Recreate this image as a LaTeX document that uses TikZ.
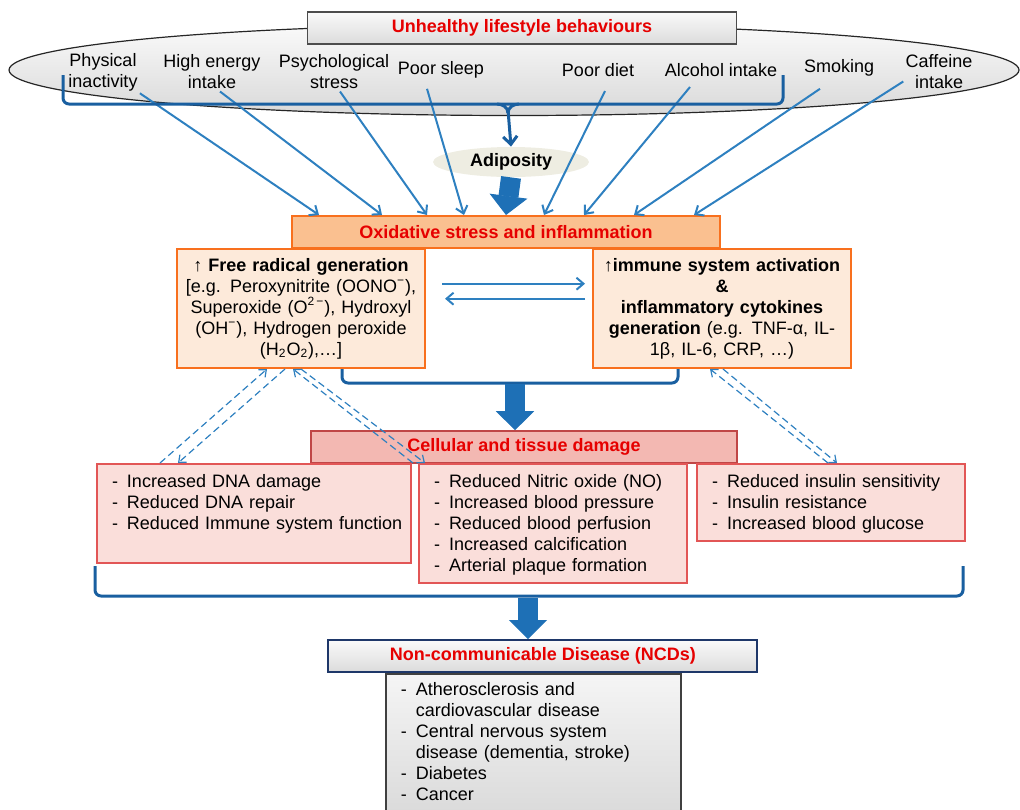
\documentclass[tikz,border=0pt]{standalone}
\usepackage{fontspec}
\setmainfont{Liberation Sans}
\usetikzlibrary{shapes.geometric}
\usetikzlibrary{arrows.meta}
\usetikzlibrary{positioning}

\definecolor{ttlred}{RGB}{230,0,0}
\definecolor{lineblue}{RGB}{46,128,192}
\definecolor{darkblue}{RGB}{25,95,160}
\definecolor{blockblue}{RGB}{30,112,182}
\definecolor{oxfill}{RGB}{250,192,144}
\definecolor{oxedge}{RGB}{248,112,30}
\definecolor{oxlight}{RGB}{253,234,218}
\definecolor{cellfill}{RGB}{243,184,178}
\definecolor{celledge}{RGB}{192,70,70}
\definecolor{dmgfill}{RGB}{250,222,218}
\definecolor{dmgedge}{RGB}{226,86,86}
\definecolor{adipfill}{RGB}{238,237,226}
\definecolor{ncdedge}{RGB}{30,55,105}

\newcommand{\basefont}{\fontsize{9}{10.5}\selectfont}

\tikzset{
  behav/.style={ellipse, draw=black!85, line width=0.6pt, top color=gray!4, bottom color=gray!30,
    minimum width=505pt, minimum height=45.5pt, inner sep=0pt},
  habit/.style={align=center, inner sep=1pt},
  grayttl/.style={draw=black!70, line width=0.8pt, top color=gray!4, bottom color=gray!28,
    minimum width=214.5pt, minimum height=16pt, text=ttlred, font=\basefont\bfseries},
  adip/.style={ellipse, fill=adipfill, minimum width=78pt, minimum height=15pt, inner sep=0pt,
    font=\basefont\bfseries},
  oxttl/.style={draw=oxedge, fill=oxfill, line width=1pt, minimum width=214pt, minimum height=16pt,
    text=ttlred, font=\basefont\bfseries},
  oxbox/.style={draw=oxedge, fill=oxlight, line width=1pt, align=center, inner xsep=3pt,
    minimum height=59.5pt, anchor=north west},
  cellttl/.style={draw=celledge, fill=cellfill, line width=0.8pt, minimum width=213pt, minimum height=16pt,
    text=ttlred, font=\basefont\bfseries},
  dmgbox/.style={draw=dmgedge, fill=dmgfill, line width=1pt, align=left, anchor=north west,
    inner xsep=7.5pt, inner ysep=4pt, text height=7.5pt},
  ncdbox/.style={draw=black!75, line width=0.8pt, top color=gray!8, bottom color=gray!30, align=left,
    anchor=north west, inner xsep=7.5pt, inner ysep=3.5pt, text height=7.5pt},
  thinarr/.style={draw=lineblue, line width=1pt, -{Straight Barb[length=3.5pt,width=6pt]}},
  dasharr/.style={draw=lineblue, line width=0.6pt, dash pattern=on 3.5pt off 2pt,
    -{Straight Barb[length=3pt,width=5pt]}},
  bigarr/.style={draw=blockblue, line width=10pt,
    -{Triangle[length=9.5pt,width=19pt,line width=0.5pt]}},
  brk/.style={draw=darkblue, line width=1.5pt, rounded corners=3pt}
}

\begin{document}
\begin{tikzpicture}[x=0.5pt, y=-0.5pt, font=\basefont]
  \useasboundingbox (0,0) rectangle (1020,809);
  \clip (0,0) rectangle (1020,809);

  % Define nodes
  \node[behav]   (life)    at (514,70) {};
  \node[grayttl] (unh)     at (522,28) {Unhealthy lifestyle behaviours};
  \node[habit]   (inact)   at (103,72) {Physical\\inactivity};
  \node[habit]   (energy)  at (212,72) {High energy\\intake};
  \node[habit]   (stress)  at (334,72) {Psychological\\stress};
  \node[habit]   (sleep)   at (441,70) {Poor sleep};
  \node[habit]   (diet)    at (598,70) {Poor diet};
  \node[habit]   (alcohol) at (721,70) {Alcohol intake};
  \node[habit]   (smoke)   at (839,68) {Smoking};
  \node[habit]   (caff)    at (939,72) {Caffeine\\intake};
  \node[adip]    (adip)    at (511,162) {Adiposity};

  \node[oxbox, text width=118pt] (free) at (176,248)
    {↑ \textbf{Free radical generation}\\
     {[}e.g. Peroxynitrite (OONO\textsuperscript{−}),\\
     Superoxide (O\textsuperscript{2\,−}), Hydroxyl\\
     (OH\textsuperscript{−}), Hydrogen peroxide\\
     (H\textsubscript{2}O\textsubscript{2}),…]};
  \node[oxbox, text width=123pt] (immune) at (592,248)
    {↑\textbf{immune system activation}\\
     \textbf{\&}\\
     \textbf{inflammatory cytokines}\\
     \textbf{generation} (e.g. TNF-α, IL-\\
     1β, IL-6, CRP, …)};
  \node[oxttl] (oxi) at (506,232) {Oxidative stress and inflammation};

  \node[cellttl] (cell) at (524,447) {Cellular and tissue damage};
  \node[dmgbox, text width=142pt, text depth=34pt] (dna) at (96,463)
    {\begin{tabular}[t]{@{}l@{\hspace{4.5pt}}l@{}}
      - & Increased DNA damage\\
      - & Reduced DNA repair\\
      - & Reduced Immune system function
     \end{tabular}};
  \node[dmgbox, text width=119pt, text depth=44pt] (vessel) at (418,463)
    {\begin{tabular}[t]{@{}l@{\hspace{4.5pt}}l@{}}
      - & Reduced Nitric oxide (NO)\\
      - & Increased blood pressure\\
      - & Reduced blood perfusion\\
      - & Increased calcification\\
      - & Arterial plaque formation
     \end{tabular}};
  \node[dmgbox, text width=119pt, text depth=23pt] (gluc) at (696,463)
    {\begin{tabular}[t]{@{}l@{\hspace{4.5pt}}l@{}}
      - & Reduced insulin sensitivity\\
      - & Insulin resistance\\
      - & Increased blood glucose
     \end{tabular}};

  \node[ncdbox, text width=132.5pt, text depth=60pt] (ncdlist) at (385,673)
    {\begin{tabular}[t]{@{}l@{\hspace{4.5pt}}l@{}}
      - & Atherosclerosis and\\
        & cardiovascular disease\\
      - & Central nervous system\\
        & disease (dementia, stroke)\\
      - & Diabetes\\
      - & Cancer
     \end{tabular}};
  \node[grayttl, draw=ncdedge, line width=1pt, above=0pt of ncdlist, xshift=4.75pt] (ncd)
    {Non-communicable Disease (NCDs)};

  \coordinate (oxl) at (342,369);
  \coordinate (oxr) at (678,369);
  \coordinate (oxm) at (515,384);
  \coordinate (dml) at (95,566);
  \coordinate (dmr) at (963,566);
  \coordinate (dmm) at (528,598);

  % Connect the nodes
  \draw[thinarr] (inact.south east) -- ([xshift=14pt]oxi.north west);
  \draw[thinarr] ([xshift=4pt]energy.south) -- ([xshift=45.5pt]oxi.north west);
  \draw[thinarr] ([xshift=3pt]stress.south) -- ([xshift=68pt]oxi.north west);
  \draw[thinarr] ([xshift=-7pt,yshift=-4pt]sleep.south) -- ([xshift=86.5pt]oxi.north west);
  \draw[thinarr] ([xshift=3.5pt,yshift=-6pt]diet.south) -- ([xshift=126.5pt]oxi.north west);
  \draw[thinarr] ([xshift=-15.5pt,yshift=-4pt]alcohol.south) -- ([xshift=146.5pt]oxi.north west);
  \draw[thinarr] ([xshift=-9.5pt,yshift=-5pt]smoke.south) -- ([xshift=171.5pt]oxi.north west);
  \draw[thinarr] ([yshift=5pt]caff.south west) -- ([xshift=201.5pt]oxi.north west);

  \draw[brk] (63,75) |- (783,104) -- (783,75);
  \draw[brk] (497,104) to[out=0,in=90] (508,113);
  \draw[brk] (519,104) to[out=180,in=90] (508,113);
  \draw[brk, -{Straight Barb[length=4pt,width=7pt]}] (508,110) -- (adip.north);
  \draw[bigarr] (adip.south) -- (oxi.north);

  \draw[thinarr] ([xshift=8pt,yshift=12.4pt]free.east) -- ([xshift=-3.5pt,yshift=12.4pt]immune.west);
  \draw[thinarr] ([xshift=-3.5pt,yshift=4.9pt]immune.west) -- ([xshift=9.5pt,yshift=4.9pt]free.east);

  \draw[brk] (oxl) -- ++(0,14) -| (oxr);
  \draw[bigarr] (oxm) -- (oxm |- cell.north);

  \draw[dasharr] ([xshift=32pt]dna.north west) -- ([xshift=45.5pt]free.south west);
  \draw[dasharr] ([xshift=54.5pt]free.south west) -- ([xshift=41pt]dna.north west);
  \draw[dasharr] ([xshift=-2.5pt]vessel.north west) -- ([xshift=58.5pt]free.south west);
  \draw[dasharr] ([xshift=62.5pt]free.south west) -- ([xshift=3.5pt]vessel.north west);
  \draw[dasharr] ([xshift=65.5pt]immune.south west) -- ([xshift=70.5pt]gluc.north west);
  \draw[dasharr] ([xshift=66pt]gluc.north west) -- ([xshift=59pt]immune.south west);

  \draw[brk] (dml) -- ++(0,30) -| (dmr);
  \draw[bigarr] (dmm) -- (dmm |- ncd.north);

\end{tikzpicture}
\end{document}
